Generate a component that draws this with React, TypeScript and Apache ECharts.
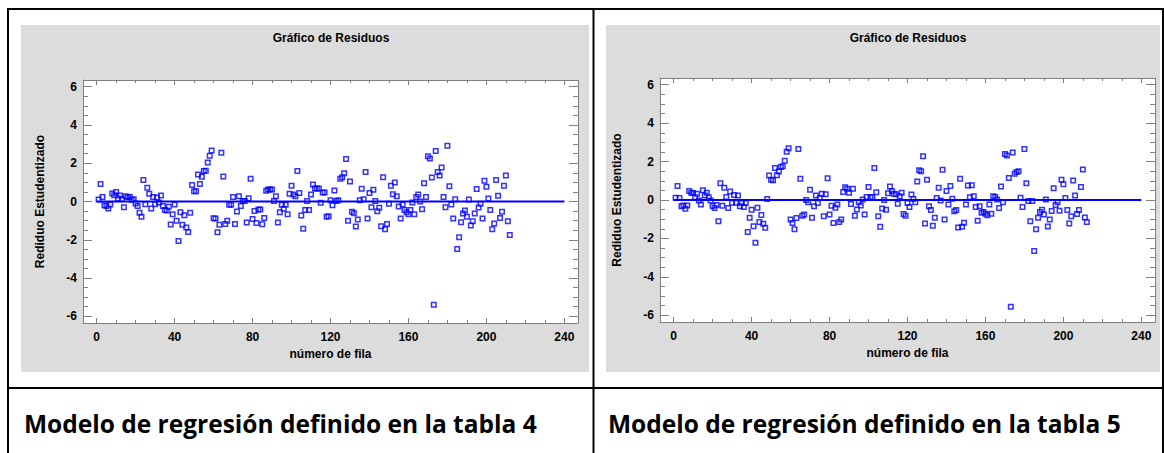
import React, { useEffect, useRef } from 'react';
import * as echarts from 'echarts';

const residualsTabla4: number[] = [
  0.10, 0.91, 0.23, -0.19, -0.24, -0.37, -0.16, 0.42, 0.33, 0.49,
  0.16, 0.31, 0.12, -0.30, 0.28, 0.24, 0.23, 0.09, 0.12, -0.10,
  -0.24, -0.59, -0.80, 1.12, -0.14, 0.72, 0.40, -0.37, 0.24, -0.14,
  0.21, -0.05, 0.31, -0.24, -0.45, -0.47, -0.28, -1.20, -0.66, -0.16,
  -1.01, -2.06, -0.56, -1.22, -0.72, -1.36, -1.59, -0.59, 0.86, 0.54,
  0.54, 1.41, 0.91, 1.29, 1.59, 1.61, 2.04, 2.39, 2.67, -0.87,
  -0.89, -1.61, -1.22, 2.55, 1.31, -1.17, -1.00, -0.17, -0.17, 0.23,
  -1.17, -0.52, 0.28, -0.24, 0.02, 0.03, -1.10, 0.17, 1.19, -0.91,
  -0.49, -1.13, -0.42, -0.42, -1.19, -0.86, 0.56, 0.63, 0.63, 0.63,
  0.03, 0.28, -1.10, -0.56, -0.17, -0.38, -0.17, -0.66, 0.40, 0.82,
  0.37, 0.28, 1.59, 0.44, -0.73, -1.43, -0.44, 0.02, -0.44, 0.37,
  0.89, 0.68, 0.68, 0.68, -0.07, 0.47, 0.47, -0.80, -0.77, 0.07,
  -0.19, 0.58, 0.03, 0.07, 1.19, 1.27, 1.47, 2.22, -1.00, 1.05,
  -0.54, -0.61, -1.31, -0.94, 0.07, 0.66, 0.12, 1.54, -0.89, 0.44,
  -0.30, 0.61, 0.02, -0.51, -0.33, -1.29, 1.27, -1.45, -1.17, -0.12,
  0.82, 0.38, 0.99, 0.28, -0.26, -0.89, -0.16, -0.44, -0.56, -0.66,
  -0.45, -0.05, -0.66, 0.23, 0.37, 0.00, -0.40, 0.96, 0.24, 2.36,
  2.25, 1.26, -5.39, 2.64, 1.54, 1.36, 1.78, 0.24, -0.30, 2.91,
  0.80, -0.16, -0.89, 0.12, -2.48, -1.87, -1.08, -0.63, -0.47, -0.80,
  0.10, -1.26, -1.03, -0.63, 0.65, -0.31, -0.12, -0.89, 1.08, 0.77,
  0.16, -0.44, -1.45, -1.15, 1.13, 0.30, -0.86, -0.54, 0.82, 1.36,
  -1.03, -1.75,
];

const residualsTabla5: number[] = [
  0.12, 0.73, 0.10, -0.33, -0.28, -0.45, -0.28, 0.47, 0.38, 0.37,
  0.14, 0.33, -0.02, -0.23, 0.51, 0.23, 0.38, 0.14, -0.02, -0.31,
  -0.42, -0.26, -1.10, 0.87, -0.30, 0.64, 0.16, -0.42, 0.44, -0.14,
  0.26, -0.14, 0.23, -0.33, -0.16, -0.37, -0.16, -1.66, -0.92, -0.51,
  -1.36, -2.23, -0.40, -1.15, -0.78, -1.24, -1.45, 0.05, 1.27, 1.06,
  1.03, 1.66, 1.29, 1.48, 1.72, 1.76, 2.04, 2.51, 2.70, -1.01,
  -1.20, -1.52, -0.94, 2.65, 1.10, -0.82, -0.75, 0.00, -0.12, 0.54,
  -0.92, -0.33, 0.23, -0.16, 0.10, 0.33, -0.84, 0.30, 1.13, -0.75,
  -0.30, -1.20, -0.40, -0.23, -1.15, -1.01, 0.42, 0.66, 0.59, 0.38,
  -0.21, 0.59, -0.82, -0.49, -0.12, -0.28, 0.02, -0.75, 0.16, 0.68,
  0.14, 0.16, 1.66, 0.40, -0.84, -1.39, -0.44, 0.00, -0.51, 0.35,
  0.70, 0.47, 0.33, 0.30, -0.19, 0.19, 0.38, -0.73, -0.82, -0.16,
  -0.37, 0.28, 0.05, -0.12, 0.96, 1.55, 1.50, 2.28, -1.22, 1.06,
  -0.33, -0.52, -1.34, -0.92, 0.10, 0.64, -0.03, 1.57, -1.01, 0.47,
  -0.23, 0.73, 0.07, -0.59, -0.52, -1.43, 1.11, -1.39, -1.18, -0.24,
  0.75, 0.14, 0.77, 0.19, -0.37, -1.08, -0.33, -0.66, -0.63, -0.71,
  -0.80, -0.24, -0.71, 0.19, 0.16, 0.02, -0.42, 0.70, -0.12, 2.39,
  2.32, 1.15, -5.56, 2.47, 1.36, 1.46, 1.50, 0.12, -0.37, 2.65,
  0.87, -0.05, -1.10, -0.05, -2.65, -1.52, -0.92, -0.63, -0.51, -0.75,
  0.03, -1.38, -1.01, -0.57, 0.61, -0.26, -0.12, -0.56, 1.06, 0.82,
  0.10, -0.52, -1.22, -0.84, 1.01, 0.23, -0.73, -0.52, 0.68, 1.59,
  -0.91, -1.15,
];

const xMajorTicks = [0, 40, 80, 120, 160, 200, 240];
const xMinorTicks = [10, 20, 30, 50, 60, 70, 90, 100, 110, 130, 140, 150, 170, 180, 190, 210, 220, 230];
const yMajorTicks = [-6, -4, -2, 0, 2, 4, 6];
const yMinorTicks = [-5.5, -5, -4.5, -3.5, -3, -2.5, -1.5, -1, -0.5, 0.5, 1, 1.5, 2.5, 3, 3.5, 4.5, 5, 5.5];
const zeroLine = [[0, 0], [240, 0]];

const chartTitle = 'Gráfico de Residuos';
const xAxisTitle = 'número de fila';
const yAxisTitle = 'Rediduo Estudentizado';
const captions = ['Modelo de regresión definido en la tabla 4', 'Modelo de regresión definido en la tabla 5'];

const FONT = '"Liberation Sans", Arial, sans-serif';
const FRAME = '#7f7f7f';
const BLUE = '#0000ff';

const panels = [
  { grid: { left: 83, top: 80, width: 495, height: 243 }, bg: { x: 21, y: 25, w: 568, h: 347 }, cx: 331, capX: 24 },
  { grid: { left: 660, top: 78, width: 495, height: 244 }, bg: { x: 606, y: 25, w: 554, h: 347 }, cx: 908, capX: 608 },
];

function buildOption() {
  const grid: any[] = [];
  const xAxis: any[] = [];
  const yAxis: any[] = [];
  const series: any[] = [];
  const graphic: any[] = [];

  const lineStyle = { color: FRAME, width: 1 };
  const labelStyle = { color: '#000', fontFamily: FONT, fontSize: 12, fontWeight: 'bold' };

  panels.forEach((p, gi) => {
    grid.push({ ...p.grid, show: true, backgroundColor: '#ffffff', borderWidth: 0, containLabel: false });
    const xBase = { type: 'value', gridIndex: gi, min: -7, max: 247, splitLine: { show: false } };
    xAxis.push({
      ...xBase, position: 'bottom',
      axisLine: { show: true, onZero: false, lineStyle },
      axisTick: { show: true, inside: true, length: 5, customValues: xMajorTicks, lineStyle },
      axisLabel: { show: true, customValues: xMajorTicks, margin: 8, ...labelStyle },
      name: xAxisTitle, nameLocation: 'middle', nameGap: 24,
      nameTextStyle: { ...labelStyle },
    });
    xAxis.push({
      ...xBase, position: 'bottom', axisLine: { show: false, onZero: false },
      axisTick: { show: true, inside: true, length: 3, customValues: xMinorTicks, lineStyle },
      axisLabel: { show: false },
    });
    xAxis.push({
      ...xBase, position: 'top',
      axisLine: { show: true, onZero: false, lineStyle },
      axisTick: { show: true, inside: true, length: 5, customValues: xMajorTicks, lineStyle },
      axisLabel: { show: false },
    });
    xAxis.push({
      ...xBase, position: 'top', axisLine: { show: false, onZero: false },
      axisTick: { show: true, inside: true, length: 3, customValues: xMinorTicks, lineStyle },
      axisLabel: { show: false },
    });

    const yBase = { type: 'value', gridIndex: gi, min: -6.35, max: 6.35, splitLine: { show: false } };
    yAxis.push({
      ...yBase, position: 'left',
      axisLine: { show: true, onZero: false, lineStyle },
      axisTick: { show: true, inside: true, length: 9, customValues: yMajorTicks, lineStyle },
      axisLabel: { show: true, customValues: yMajorTicks, margin: 6, ...labelStyle },
      name: yAxisTitle, nameLocation: 'middle', nameGap: 37, nameRotate: 90,
      nameTextStyle: { ...labelStyle },
    });
    yAxis.push({
      ...yBase, position: 'left', axisLine: { show: false, onZero: false },
      axisTick: { show: true, inside: true, length: 5, customValues: yMinorTicks, lineStyle },
      axisLabel: { show: false },
    });
    yAxis.push({
      ...yBase, position: 'right',
      axisLine: { show: true, onZero: false, lineStyle },
      axisTick: { show: true, inside: true, length: 9, customValues: yMajorTicks, lineStyle },
      axisLabel: { show: false },
    });
    yAxis.push({
      ...yBase, position: 'right', axisLine: { show: false, onZero: false },
      axisTick: { show: true, inside: true, length: 5, customValues: yMinorTicks, lineStyle },
      axisLabel: { show: false },
    });

    const data = (gi === 0 ? residualsTabla4 : residualsTabla5).map((v, i) => [i + 1, v]);
    series.push({
      type: 'line', xAxisIndex: gi * 4, yAxisIndex: gi * 4, data: zeroLine,
      symbol: 'none', silent: true, z: 2,
      lineStyle: { color: BLUE, width: 2 },
    });
    series.push({
      type: 'scatter', xAxisIndex: gi * 4, yAxisIndex: gi * 4, data,
      symbol: 'rect', symbolSize: 4.5, z: 3, silent: true,
      itemStyle: { color: 'rgba(0,0,0,0)', borderColor: BLUE, borderWidth: 1.5 },
    });

    graphic.push({
      type: 'rect', z: -10, silent: true,
      shape: { x: p.bg.x, y: p.bg.y, width: p.bg.w, height: p.bg.h },
      style: { fill: '#dcdcdc' },
    });
    graphic.push({
      type: 'text', x: p.cx, y: 38, z: 5, silent: true,
      style: {
        text: chartTitle, fill: '#000', font: `bold 12px ${FONT}`,
        textAlign: 'center', textVerticalAlign: 'middle', align: 'center', verticalAlign: 'middle',
      },
    });
    graphic.push({
      type: 'text', x: p.capX, y: 423, z: 5, silent: true,
      style: {
        text: captions[gi], fill: '#000', font: 'bold 24.5px "Open Sans", sans-serif',
        textAlign: 'left', textVerticalAlign: 'middle', align: 'left', verticalAlign: 'middle',
      },
    });
  });

  const border = { stroke: '#000', lineWidth: 2 };
  [
    [7, 9, 1164, 9],
    [7, 388, 1164, 388],
    [8, 8, 8, 453],
    [593.5, 8, 593.5, 453],
    [1163, 8, 1163, 453],
  ].forEach(([x1, y1, x2, y2]) => {
    graphic.push({ type: 'line', z: 5, silent: true, shape: { x1, y1, x2, y2 }, style: border });
  });

  return { animation: false, backgroundColor: '#ffffff', grid, xAxis, yAxis, series, graphic };
}

export default function App() {
  const ref = useRef<HTMLDivElement>(null);
  useEffect(() => {
    document.body.style.margin = '0';
    const chart = echarts.init(ref.current as HTMLDivElement, null, { renderer: 'svg', width: 1164, height: 453 });
    chart.setOption(buildOption() as any);
    return () => chart.dispose();
  }, []);
  return <div ref={ref} style={{ width: 1164, height: 453 }} />;
}
